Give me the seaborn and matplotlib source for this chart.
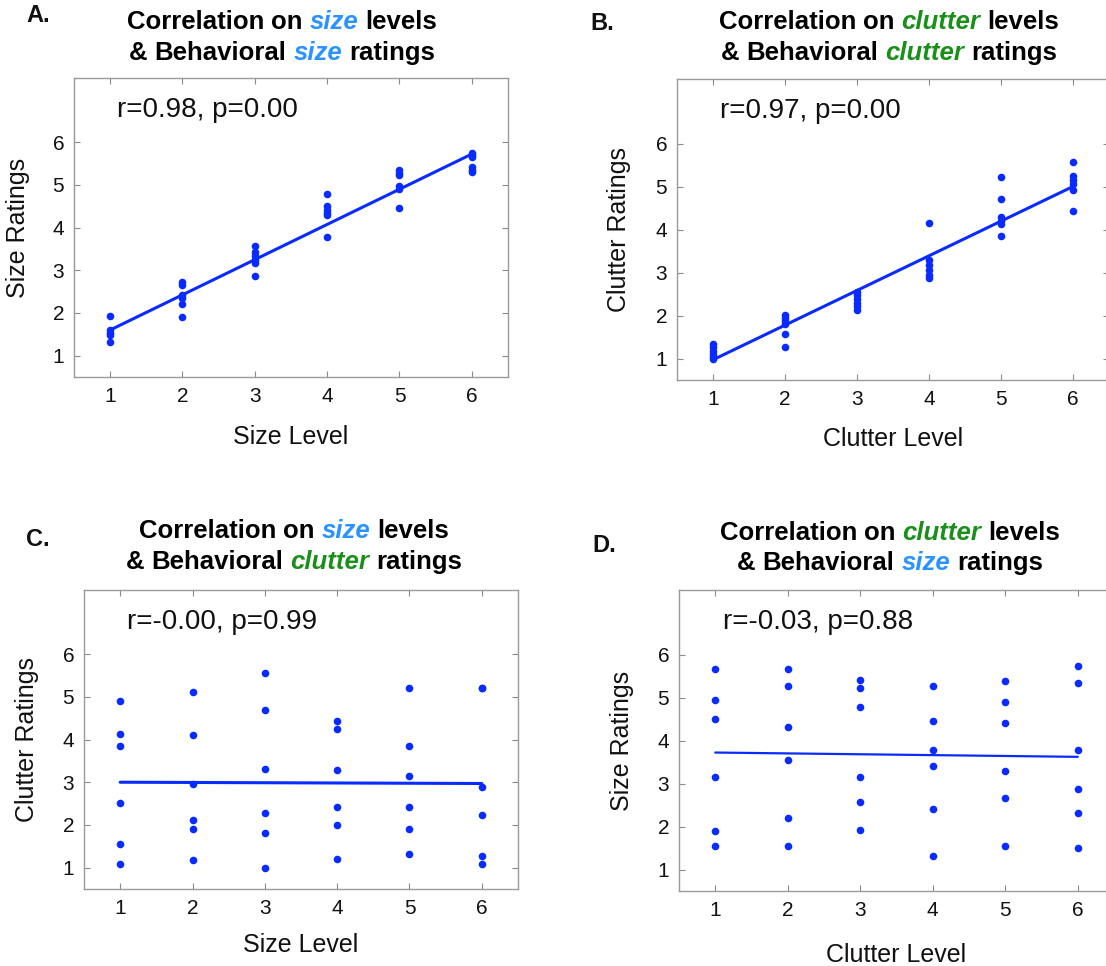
import matplotlib
matplotlib.use('Agg')
import numpy as np
import pandas as pd
import matplotlib.pyplot as plt
import seaborn as sns

sns.set_style('white')
plt.rcParams['font.family'] = ['Liberation Sans', 'DejaVu Sans']
plt.rcParams['text.color'] = '#111111'
plt.rcParams['axes.labelcolor'] = '#111111'
plt.rcParams['xtick.labelcolor'] = '#111111'
plt.rcParams['ytick.labelcolor'] = '#111111'

# levels shown on the x axis of every panel
levels = [1, 2, 3, 4, 5, 6]

# A. size level vs. size ratings (one list per level)
size_lvl_size_rt = [
    [1.93, 1.60, 1.54, 1.48, 1.31],
    [2.73, 2.65, 2.42, 2.35, 2.22, 1.90],
    [3.56, 3.42, 3.33, 3.25, 3.17, 2.86],
    [4.79, 4.50, 4.42, 4.35, 4.30, 3.77],
    [5.34, 5.28, 5.22, 4.97, 4.90, 4.46],
    [5.75, 5.70, 5.66, 5.42, 5.35, 5.30],
]
# B. clutter level vs. clutter ratings
clut_lvl_clut_rt = [
    [1.33, 1.26, 1.18, 1.10, 1.04, 0.99],
    [2.02, 1.95, 1.88, 1.80, 1.56, 1.27],
    [2.55, 2.47, 2.38, 2.30, 2.22, 2.12],
    [4.14, 3.30, 3.18, 3.05, 2.95, 2.88],
    [5.21, 4.70, 4.28, 4.20, 4.12, 3.85],
    [5.56, 5.24, 5.14, 5.05, 4.92, 4.43],
]
# C. size level vs. clutter ratings
size_lvl_clut_rt = [
    [4.91, 4.14, 3.84, 2.51, 1.56, 1.08],
    [5.12, 4.11, 2.96, 2.12, 1.90, 1.17],
    [5.56, 4.70, 3.30, 2.29, 1.81, 1.00],
    [4.43, 4.25, 3.28, 2.41, 1.99, 1.21],
    [5.21, 3.84, 3.14, 2.41, 1.91, 1.32],
    [5.20, 5.20, 2.88, 2.24, 1.27, 1.09],
]
# D. clutter level vs. size ratings
clut_lvl_size_rt = [
    [5.66, 4.94, 4.49, 3.15, 1.90, 1.54],
    [5.66, 5.27, 4.31, 3.55, 2.20, 1.55],
    [5.41, 5.23, 4.78, 3.15, 2.56, 1.93],
    [5.27, 4.45, 3.77, 3.40, 2.40, 1.31],
    [5.38, 4.90, 4.40, 3.30, 2.66, 1.54],
    [5.73, 5.33, 3.77, 2.87, 2.32, 1.49],
]

# fitted line values at level 1 and level 6
fit_a = [1.60, 5.72]
fit_b = [0.97, 5.00]
fit_c = [3.00, 2.97]
fit_d = [3.72, 3.62]

stats = ['r=0.98, p=0.00', 'r=0.97, p=0.00', 'r=-0.00, p=0.99', 'r=-0.03, p=0.88']

BLUE = '#0a2bff'
SIZE_C = '#2a93ff'
CLUT_C = '#1a8f1a'
W, H = 1106, 966


def to_frame(groups):
    rows = [(lvl, v) for lvl, vals in zip(levels, groups) for v in vals]
    return pd.DataFrame(rows, columns=['level', 'rating'])


def rich_line(fig, xc, ytop, words, size=18.5):
    # draw one centred title line made of coloured words (pixel coords)
    r = fig.canvas.get_renderer()
    probe = fig.text(0, 0, 'a a', fontsize=size, fontweight='bold')
    probe2 = fig.text(0, 0, 'aa', fontsize=size, fontweight='bold')
    sp = probe.get_window_extent(r).width - probe2.get_window_extent(r).width
    probe.remove()
    probe2.remove()
    texts, widths = [], []
    for s, col, it in words:
        t = fig.text(0, 1 - ytop / H, s, fontsize=size, fontweight='bold', color=col,
                     fontstyle='italic' if it else 'normal', va='center', ha='left')
        texts.append(t)
        widths.append(t.get_window_extent(r).width)
    total = sum(widths) + sp * (len(widths) - 1)
    x = xc - total / 2
    for t, w in zip(texts, widths):
        t.set_x(x / W)
        x += w + sp


def title_words(a, b):
    ca = SIZE_C if a == 'size' else CLUT_C
    cb = SIZE_C if b == 'size' else CLUT_C
    l1 = [('Correlation', 'black', False), ('on', 'black', False), (a, ca, True), ('levels', 'black', False)]
    l2 = [('&', 'black', False), ('Behavioral', 'black', False), (b, cb, True), ('ratings', 'black', False)]
    return l1, l2


panels = [
    dict(rect=[74, 78, 508, 377], data=size_lvl_size_rt, fit=fit_a, stat=stats[0],
         xl='Size Level', yl='Size Ratings', letter='A.', lpos=(26, 16),
         words=('size', 'size'), tc=282, ty=(22, 53), xpad=14, ypad=16),
    dict(rect=[677, 79, 1109, 380], data=clut_lvl_clut_rt, fit=fit_b, stat=stats[1],
         xl='Clutter Level', yl='Clutter Ratings', letter='B.', lpos=(590, 23),
         words=('clutter', 'clutter'), tc=889, ty=(22, 53), xpad=13, ypad=18),
    dict(rect=[84, 590, 518, 889], data=size_lvl_clut_rt, fit=fit_c, stat=stats[2],
         xl='Size Level', yl='Clutter Ratings', letter='C.', lpos=(26, 540),
         words=('size', 'clutter'), tc=294, ty=(531, 562), xpad=11, ypad=17),
    dict(rect=[679, 590, 1114, 891], data=clut_lvl_size_rt, fit=fit_d, stat=stats[3],
         xl='Clutter Level', yl='Size Ratings', letter='D.', lpos=(592, 545),
         words=('clutter', 'size'), tc=890, ty=(533, 563), xpad=17, ypad=17),
]

fig = plt.figure(figsize=(W / 100, H / 100), dpi=100)

for i, p in enumerate(panels):
    l, t, rgt, b = p['rect']
    ax = fig.add_axes([l / W, 1 - b / H, (rgt - l) / W, (b - t) / H])
    df = to_frame(p['data'])
    sns.scatterplot(data=df, x='level', y='rating', ax=ax, color=BLUE, s=30,
                    linewidth=0, zorder=3)
    sns.lineplot(x=[levels[0], levels[-1]], y=p['fit'], ax=ax, color=BLUE,
                 lw=1.6 if i == 3 else 2.2, zorder=2)
    ax.set_xlim(0.5, 6.5)
    ax.set_ylim(0.5, 7.5)
    ax.set_xticks(levels)
    ax.set_yticks(levels)
    ax.tick_params(direction='in', bottom=True, left=True, top=True, right=True,
                   length=4, width=0.8, color='#8a8a8a', labelsize=15, pad=7)
    for s in ax.spines.values():
        s.set_color('#9a9a9a')
        s.set_linewidth(1.0)
    ax.text(1.1, 6.75, p['stat'], fontsize=20, va='center', ha='left')
    ax.set_xlabel(p['xl'], fontsize=18, labelpad=p['xpad'])
    ax.set_ylabel(p['yl'], fontsize=18, labelpad=p['ypad'])

    fig.text(p['lpos'][0] / W, 1 - p['lpos'][1] / H, p['letter'], fontsize=17,
             fontweight='bold', va='center', ha='left')
    l1, l2 = title_words(*p['words'])
    rich_line(fig, p['tc'], p['ty'][0], l1)
    rich_line(fig, p['tc'], p['ty'][1], l2)

fig.savefig('out.png', dpi=100)
